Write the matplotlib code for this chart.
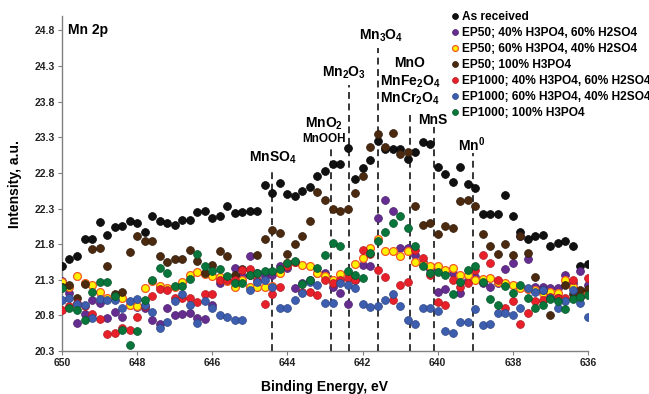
import numpy as np
import matplotlib
matplotlib.use("Agg")
import matplotlib.pyplot as plt

plt.rcParams['font.family'] = ['Liberation Sans', 'DejaVu Sans']
plt.rcParams['font.weight'] = 'bold'
plt.rcParams['mathtext.fontset'] = 'custom'
plt.rcParams['mathtext.rm'] = 'Liberation Sans:bold'
plt.rcParams['mathtext.it'] = 'Liberation Sans:bold'
plt.rcParams['mathtext.bf'] = 'Liberation Sans:bold'
plt.rcParams['mathtext.default'] = 'rm'

# binding energy grid, 650 -> 636 eV in 0.2 eV steps
energy = np.round(650 - 0.2 * np.arange(71), 1)

as_received = [21.49, 21.59, 21.63, 21.87, 21.87, 22.11, 21.93, 22.04, 22.05, 22.12,
               22.10, 21.97, 22.20, 22.12, 22.10, 22.07, 22.14, 22.14, 22.25, 22.27,
               22.17, 22.20, 22.33, 22.24, 22.25, 22.26, 22.27, 22.63, 22.52, 22.66,
               22.51, 22.47, 22.55, 22.60, 22.75, 22.83, 22.92, 22.92, 23.15, 22.72,
               22.87, 22.98, 23.25, 23.14, 23.14, 23.14, 23.00, 23.10, 23.24, 23.21,
               22.89, 22.78, 22.67, 22.89, 22.65, 22.59, 22.22, 22.22, 22.22, 22.49,
               22.20, 21.97, 21.87, 21.92, 21.93, 21.78, 21.81, 21.84, 21.77, 21.50,
               21.52]
ep50_40 = [21.29, 21.11, 20.70, 20.82, 21.02, 20.98, 20.77, 20.85, 20.78, 20.95,
           20.92, 20.90, 20.74, 20.68, 20.90, 20.81, 20.82, 20.83, 20.76, 20.75,
           20.95, 21.25, 21.30, 21.46, 21.35, 21.64, 21.40, 21.35, 21.37, 21.49,
           21.46, 21.18, 21.25, 21.30, 21.39, 21.39, 21.20, 21.11, 20.96, 21.30,
           21.51, 21.50, 22.17, 22.42, 22.27, 21.74, 21.74, 21.65, 21.55, 21.45,
           21.13, 21.17, 21.39, 21.12, 21.30, 21.34, 21.25, 21.20, 21.25, 21.45,
           21.53, 21.91, 21.59, 21.20, 21.20, 21.19, 21.19, 21.37, 21.25, 21.43,
           21.23]
ep50_60 = [21.27, 21.20, 21.35, 21.25, 21.22, 21.13, 21.04, 21.05, 21.04, 20.95,
           20.93, 21.18, 21.29, 21.21, 21.18, 21.20, 21.27, 21.37, 21.41, 21.38,
           21.35, 21.34, 21.28, 21.20, 21.30, 21.20, 21.20, 21.20, 21.21, 21.39,
           21.53, 21.55, 21.51, 21.49, 21.39, 21.35, 21.30, 21.38, 21.40, 21.52,
           21.60, 21.75, 21.87, 21.70, 21.70, 21.63, 21.71, 21.55, 21.52, 21.50,
           21.49, 21.44, 21.46, 21.37, 21.37, 21.30, 21.31, 21.32, 21.27, 21.25,
           21.23, 21.19, 21.17, 21.15, 21.11, 21.13, 21.11, 21.30, 21.20, 21.13,
           21.13]
ep50_100 = [21.20, 21.23, 21.04, 21.24, 21.73, 21.74, 21.49, 21.10, 21.13, 21.69,
            21.92, 21.84, 21.84, 21.64, 21.55, 21.59, 21.59, 21.72, 21.56, 21.40,
            21.51, 21.70, 21.64, 21.37, 21.45, 21.37, 21.65, 21.87, 22.00, 21.96,
            21.66, 21.80, 21.92, 22.13, 22.53, 22.42, 22.30, 22.26, 22.29, 22.52,
            22.75, 23.17, 23.34, 23.17, 23.36, 23.06, 23.09, 22.34, 22.07, 22.10,
            21.94, 22.06, 22.02, 22.40, 22.42, 22.34, 21.94, 21.77, 21.66, 21.80,
            21.65, 21.92, 21.68, 21.34, 21.15, 20.81, 21.05, 21.23, 21.10, 21.15,
            21.17]
ep1000_40 = [20.87, 20.93, 20.97, 20.93, 20.82, 20.75, 20.54, 20.55, 20.63, 20.59,
             20.78, 20.93, 21.07, 21.17, 21.15, 21.05, 21.05, 21.04, 20.99, 21.10,
             21.10, 21.30, 21.30, 21.30, 21.44, 21.45, 21.30, 20.96, 21.10, 21.20,
             21.49, 21.55, 21.13, 21.13, 21.09, 21.30, 21.25, 21.30, 21.32, 21.30,
             21.72, 21.66, 21.44, 21.34, 21.02, 21.22, 21.27, 21.72, 21.60, 21.37,
             20.99, 20.94, 21.30, 21.20, 21.25, 21.44, 21.65, 21.53, 21.30, 20.90,
             21.00, 20.68, 20.84, 21.00, 21.02, 21.06, 21.05, 21.04, 21.30, 21.06,
             21.32]
ep1000_60 = [21.01, 21.04, 20.96, 20.95, 20.76, 21.03, 21.02, 21.02, 20.90, 21.00,
             21.03, 20.95, 20.85, 20.62, 20.71, 21.00, 21.10, 20.95, 20.69, 21.00,
             20.90, 20.81, 20.78, 20.74, 20.74, 21.16, 21.27, 21.30, 21.20, 20.91,
             20.90, 21.01, 21.12, 21.27, 21.22, 20.98, 20.98, 21.25, 21.23, 21.18,
             20.96, 20.92, 20.93, 21.02, 21.10, 20.93, 20.73, 20.68, 20.91, 20.90,
             20.86, 20.58, 20.55, 20.71, 20.71, 20.89, 20.66, 20.68, 20.84, 20.84,
             20.81, 20.90, 21.19, 21.13, 21.15, 21.05, 20.90, 21.00, 21.16, 20.97,
             20.78]
ep1000_100 = [21.18, 20.90, 20.88, 20.73, 21.13, 21.27, 21.27, 21.07, 20.59, 20.39,
              20.58, 21.01, 21.30, 21.46, 21.40, 21.21, 21.21, 21.31, 21.66, 21.49,
              21.42, 21.45, 21.35, 21.25, 21.25, 21.37, 21.40, 21.42, 21.42, 21.45,
              21.54, 21.57, 21.24, 21.30, 21.46, 21.65, 21.81, 21.78, 21.42, 21.37,
              21.32, 21.67, 21.84, 21.97, 22.10, 22.20, 22.03, 21.77, 21.49, 21.40,
              21.41, 21.37, 21.10, 21.27, 21.44, 21.49, 21.27, 21.03, 20.94, 21.21,
              21.11, 21.23, 21.04, 20.91, 20.95, 21.03, 21.00, 20.89, 21.03, 21.06,
              21.08]

series = [
    ('As received', as_received, '#111111', '#000000'),
    ('EP50; 40% H3PO4, 60% H2SO4', ep50_40, '#662d91', '#4a1f6b'),
    ('EP50; 60% H3PO4, 40% H2SO4', ep50_60, '#fff200', '#f15a24'),
    ('EP50; 100% H3PO4', ep50_100, '#4b2a10', '#2e1a08'),
    ('EP1000; 40% H3PO4, 60% H2SO4', ep1000_40, '#e8202a', '#b01820'),
    ('EP1000; 60% H3PO4, 40% H2SO4', ep1000_60, '#3d5daf', '#2c4585'),
    ('EP1000; 100% H3PO4', ep1000_100, '#08753a', '#05542a'),
]

# reference species: line position, line top
species_be = [644.4, 642.85, 642.35, 641.6, 640.75, 640.1, 639.05]
species_top = [22.87, 23.17, 24.03, 24.56, 23.65, 23.44, 23.08]

fig = plt.figure(figsize=(6.49, 3.94), dpi=100)
ax = fig.add_axes([0.0955, 0.109, 0.8105, 0.850])

for label, vals, fc, ec in series:
    lw = 0.9 if fc == '#fff200' else 0.5
    ax.scatter(energy, vals, s=32, c=fc, edgecolors=ec, linewidths=lw,
               label=label, zorder=3)

ax.vlines(species_be, 20.3, species_top, colors='black', linestyles=(0, (4.5, 3)),
          linewidth=1.1, zorder=2)

txt = dict(ha='center', va='baseline', fontsize=10, fontweight='bold')
ax.text(644.40, 22.96, 'MnSO$_4$', **txt)
ax.text(643.03, 23.43, 'MnO$_2$', **txt)
ax.text(643.03, 23.23, 'MnOOH', ha='center', va='baseline', fontsize=8.5, fontweight='bold')
ax.text(642.49, 24.15, 'Mn$_2$O$_3$', **txt)
ax.text(641.51, 24.67, 'Mn$_3$O$_4$', **txt)
ax.text(640.74, 24.28, 'MnO', **txt)
ax.text(640.74, 24.03, 'MnFe$_2$O$_4$', **txt)
ax.text(640.74, 23.79, 'MnCr$_2$O$_4$', **txt)
ax.text(640.14, 23.49, 'MnS', **txt)
ax.text(639.09, 23.11, 'Mn$^0$', **txt)

ax.text(649.85, 24.8, 'Mn 2p', ha='left', va='center', fontsize=10, fontweight='bold')

ax.set_xlim(650, 636)
ax.set_ylim(20.3, 25.0)
ax.set_xticks(np.arange(650, 635, -2))
ax.set_yticks(np.round(np.arange(20.3, 24.9, 0.5), 1))
ax.set_yticklabels([f'{v:.1f}' for v in np.arange(20.3, 24.9, 0.5)])

for side in ['top', 'right']:
    ax.spines[side].set_visible(False)
for side in ['left', 'bottom']:
    ax.spines[side].set_color('#808080')
    ax.spines[side].set_linewidth(1.0)
ax.tick_params(direction='out', length=3, width=0.8, color='#808080',
               labelsize=7.5, labelcolor='#222222', pad=2)

ax.set_xlabel('Binding Energy, eV', fontsize=10, fontweight='bold', labelpad=9)
ax.set_ylabel('Intensity, a.u.', fontsize=10, fontweight='bold', labelpad=9)

fig.legend(loc='upper left', bbox_to_anchor=(0.6965, 0.972), frameon=False,
           fontsize=8.6, handlelength=0.55, handletextpad=0.3, labelspacing=0.33,
           borderpad=0, borderaxespad=0, markerscale=0.75, scatteryoffsets=[0.5])

fig.savefig('out.png', dpi=100)
